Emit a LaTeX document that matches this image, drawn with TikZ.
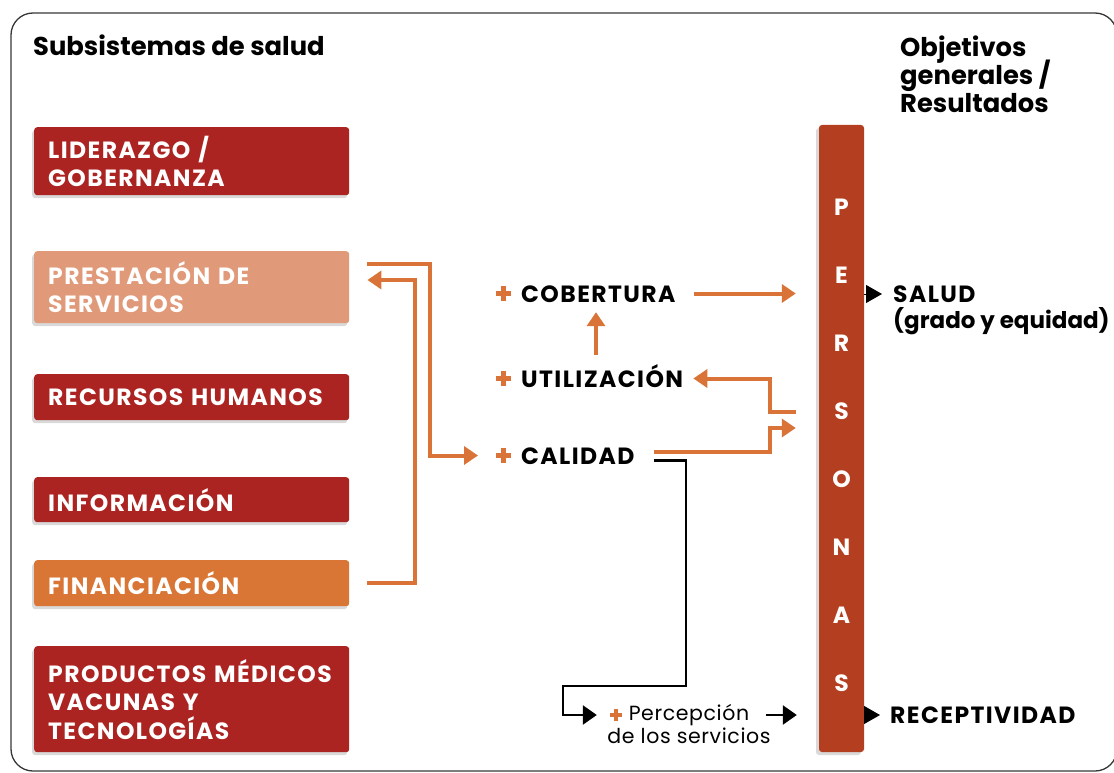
\documentclass[tikz,border=0pt]{standalone}
\usepackage{fontspec}
\setmainfont{Poppins}
\newfontfamily\capsfamily[LetterSpace=6]{Poppins}
\newfontfamily\percfamily[LetterSpace=3]{Poppins}
\usetikzlibrary{shapes,arrows.meta,positioning,shadows}
\definecolor{boxred}{RGB}{171,36,34}
\definecolor{prestc}{RGB}{224,154,122}
\definecolor{finc}{RGB}{217,117,53}
\definecolor{barc}{RGB}{180,62,32}
\definecolor{arrowc}{RGB}{217,115,55}
\definecolor{framec}{RGB}{55,55,55}
\newcommand\headfont{\fontsize{25.8}{28}\selectfont\bfseries\lineskiplimit=-20pt}
\newcommand\boxfont{\capsfamily\fontsize{23.5}{28.5}\selectfont\bfseries}
\newcommand\lowfont{\fontsize{23}{28}\selectfont\bfseries}
\newcommand\percfont{\percfamily\fontsize{20.5}{23}\selectfont}
\newcommand\barfont{\capsfamily\fontsize{23.5}{68}\selectfont\bfseries}
% orange plus sign: size, stroke, raise
\newcommand\plusmark[3]{\textcolor{arrowc}{\rlap{\rule[\dimexpr#3+#1/2-#2/2\relax]{#1}{#2}}\hspace{\dimexpr#1/2-#2/2\relax}\rule[#3]{#2}{#1}\hspace{\dimexpr#1/2-#2/2\relax}}}
\tikzstyle{block} = [rectangle, text=white, font=\boxfont, text width=287pt, inner xsep=14pt, inner ysep=0pt, align=left, anchor=north west, rounded corners=3pt, drop shadow={shadow xshift=-2pt, shadow yshift=-3pt, opacity=.3}]
\tikzstyle{factor} = [font=\boxfont, anchor=base west, inner sep=0pt, text height=17pt, text depth=0pt]
\tikzstyle{goal} = [font=\boxfont, anchor=west, inner sep=0pt]
\tikzstyle{line} = [draw=arrowc, line width=4pt, -{Triangle[length=14pt,width=18pt]}]
\tikzstyle{blkline} = [draw=black, line width=2.5pt, -{Triangle[length=14pt,width=19pt]}]
\tikzstyle{pointer} = [draw=black, line width=1pt, -{Triangle[length=16pt,width=18pt]}]
\begin{document}
\begin{tikzpicture}[x=1pt, y=-1pt]
\useasboundingbox (0,0) rectangle (1114,773);
\clip (0,0) rectangle (1114,773);
\draw [framec, line width=1.3pt, rounded corners=22pt] (11,13) rectangle (1117,771);

% Place nodes
\node [font=\headfont, anchor=base west, inner sep=0pt] (subsis) at (33,56) {Subsistemas de salud};
\node [font=\headfont, anchor=north west, align=left, inner sep=0pt] (objet) at (900,36) {Objetivos\\generales /\\Resultados};

\node [block, fill=boxred, minimum height=68pt] (lider) at (34,127) {LIDERAZGO /\\GOBERNANZA};
\node [block, fill=prestc, minimum height=72pt] (prest) at (34,251) {PRESTACIÓN DE\\SERVICIOS};
\node [block, fill=boxred, minimum height=46pt] (rrhh) at (34,374) {RECURSOS HUMANOS};
\node [block, fill=boxred, minimum height=45pt] (info) at (34,477) {INFORMACIÓN};
\node [block, fill=finc, minimum height=46pt] (fin) at (34,560) {FINANCIACIÓN};
\node [block, fill=boxred, minimum height=106pt] (prod) at (34,646) {PRODUCTOS MÉDICOS\\VACUNAS Y\\TECNOLOGÍAS};

\node [factor] (cob) at (496,302) {\makebox[25pt][l]{\plusmark{15pt}{5pt}{1pt}}COBERTURA};
\node [factor] (util) at (496,387) {\makebox[25pt][l]{\plusmark{15pt}{5pt}{1pt}}UTILIZACIÓN};
\node [factor] (cal) at (496,464) {\makebox[25pt][l]{\plusmark{15pt}{5pt}{1pt}}CALIDAD};

\node [inner sep=0pt] (pplus) at (616,715) {\plusmark{12pt}{4pt}{0pt}};
\node [font=\percfont, align=center, inner sep=0pt] (perc) at (689,724) {Percepción\\de los servicios};

\node [rectangle, fill=barc, minimum width=45pt, minimum height=627pt, rounded corners=3pt, drop shadow={shadow xshift=-3pt, shadow yshift=-3pt, opacity=.3}] (bar) at (841.5,438.5) {};
\node [font=\barfont, text=white, align=center] (personas) at (841.5,445) {P\\E\\R\\S\\O\\N\\A\\S};

\node [goal] (salud) at (893,294) {SALUD};
\node [goal, font=\lowfont] (equidad) at (893,321) {(grado y equidad)};
\node [goal] (recep) at (890,715) {RECEPTIVIDAD};

\coordinate (k1) at (430,264);
\coordinate (k2) at (415,280);
\coordinate (c1) at (596,0);
\coordinate (j1) at (770,412);
\coordinate (j2) at (770,428);
\coordinate (m1) at (686,686);
\coordinate (m2) at (563,686);

% Draw edges
\path [line, shorten <=18pt, shorten >=18pt] (prest.east |- k1) -- (k1) |- (cal.west);
\path [line, shorten <=18pt, shorten >=18pt] (fin.east) -| (k2) -- (k2 -| prest.east);
\path [line, shorten <=18pt, shorten >=23pt] (cob.east) -- (cob.east -| bar.west);
\path [line, shorten <=15pt, shorten >=10pt] (util.north -| c1) -- (cob.south -| c1);
\path [line, shorten <=23pt, shorten >=10pt] (bar.west |- j1) -- (j1) |- (util.east);
\path [line, shorten <=19pt, shorten >=23pt] ([yshift=4pt]cal.east) -| (j2) -- (j2 -| bar.west);
\path [blkline, shorten <=19pt, shorten >=13pt] ([yshift=-5pt]cal.east) -| (m1) -- (m2) |- (pplus.west);
\path [blkline, shorten <=-5pt, shorten >=22pt] (pplus -| perc.east) -- (pplus -| bar.west);
\path [pointer, shorten >=11pt] (bar.east |- salud) -- (salud.west);
\path [pointer, shorten >=10pt] (bar.east |- recep) -- (recep.west);

\end{tikzpicture}
\end{document}
